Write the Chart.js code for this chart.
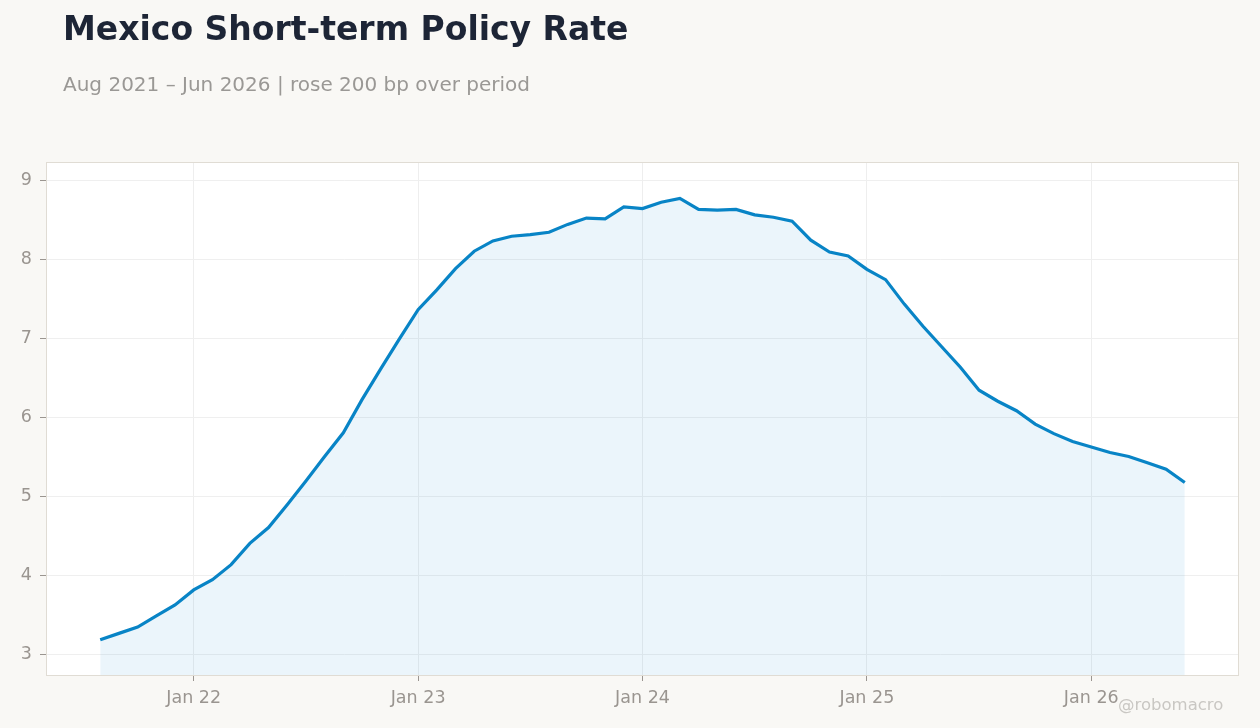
<!DOCTYPE html>
<html>
<head>
<meta charset="utf-8">
<script src="https://cdn.jsdelivr.net/npm/chart.js@4/dist/chart.umd.min.js"></script>
<style>
  html, body { margin: 0; padding: 0; background: #f9f8f5; }
  #wrap { position: relative; width: 1260px; height: 728px; overflow: hidden; }
  #title { position: absolute; left: 63px; top: 9px; font: bold 33px "DejaVu Sans", sans-serif; color: #1d2536; }
  #subtitle { position: absolute; left: 63px; top: 72px; font: 20px "DejaVu Sans", sans-serif; color: #9a9895; }
  #credit { position: absolute; left: 1118px; top: 695px; font: 16.5px "DejaVu Sans", sans-serif; color: #c9c7c3; }
  canvas { position: absolute; left: 0; top: 0; }
</style>
</head>
<body>
<div id="wrap">
  <canvas id="rateChart" width="1260" height="728"></canvas>
  <div id="title">Mexico Short-term Policy Rate</div>
  <div id="subtitle">Aug 2021 – Jun 2026 | rose 200 bp over period</div>
  <div id="credit">@robomacro</div>
</div>
<script>
// monthly observations, Aug 2021 .. Jun 2026
const months = [
  'Aug 21','Sep 21','Oct 21','Nov 21','Dec 21',
  'Jan 22','Feb 22','Mar 22','Apr 22','May 22','Jun 22','Jul 22','Aug 22','Sep 22','Oct 22','Nov 22','Dec 22',
  'Jan 23','Feb 23','Mar 23','Apr 23','May 23','Jun 23','Jul 23','Aug 23','Sep 23','Oct 23','Nov 23','Dec 23',
  'Jan 24','Feb 24','Mar 24','Apr 24','May 24','Jun 24','Jul 24','Aug 24','Sep 24','Oct 24','Nov 24','Dec 24',
  'Jan 25','Feb 25','Mar 25','Apr 25','May 25','Jun 25','Jul 25','Aug 25','Sep 25','Oct 25','Nov 25','Dec 25',
  'Jan 26','Feb 26','Mar 26','Apr 26','May 26','Jun 26'
];

const rate = [
  3.19, 3.27, 3.35, 3.49, 3.63,
  3.82, 3.95, 4.14, 4.41, 4.61, 4.90, 5.20, 5.51, 5.81, 6.23, 6.62, 7.00,
  7.37, 7.62, 7.89, 8.11, 8.24, 8.30, 8.32, 8.35, 8.45, 8.53, 8.52, 8.67,
  8.65, 8.73, 8.78, 8.64, 8.63, 8.64, 8.57, 8.54, 8.49, 8.25, 8.10, 8.05,
  7.88, 7.75, 7.44, 7.16, 6.90, 6.64, 6.35, 6.21, 6.09, 5.92, 5.80, 5.70,
  5.63, 5.56, 5.51, 5.43, 5.35, 5.18
];

const yTicks = [3, 4, 5, 6, 7, 8, 9];

const plotBox = {
  id: 'plotBox',
  beforeDraw(chart) {
    const {ctx, chartArea: a} = chart;
    ctx.save();
    ctx.fillStyle = '#ffffff';
    ctx.fillRect(a.left, a.top, a.right - a.left, a.bottom - a.top);
    ctx.restore();
  },
  afterDraw(chart) {
    const {ctx, chartArea: a} = chart;
    ctx.save();
    ctx.strokeStyle = '#e0dcd4';
    ctx.lineWidth = 1;
    ctx.strokeRect(a.left + 0.5, a.top + 0.5, a.right - a.left - 1, a.bottom - a.top - 1);
    ctx.restore();
  }
};

const tickFont = { family: 'DejaVu Sans', size: 17.5 };

new Chart(document.getElementById('rateChart'), {
  type: 'line',
  data: {
    datasets: [{
      data: rate.map((v, i) => ({ x: i, y: v })),
      borderColor: '#0884c6',
      backgroundColor: 'rgba(30, 140, 210, 0.09)',
      borderWidth: 3.2,
      pointRadius: 0,
      tension: 0,
      fill: 'start'
    }]
  },
  plugins: [plotBox],
  options: {
    responsive: false,
    animation: false,
    layout: { padding: { top: 162, right: 21, bottom: 0, left: 0 } },
    plugins: { legend: { display: false }, tooltip: { enabled: false } },
    scales: {
      x: {
        type: 'linear',
        min: -2.9,
        max: rate.length - 1 + 2.9,
        afterBuildTicks: (scale) => {
          scale.ticks = months
            .map((m, i) => ({ value: i, label: m }))
            .filter(t => t.label.startsWith('Jan'));
        },
        afterFit: (scale) => { scale.height = 52; },
        ticks: {
          callback: (v) => months[v],
          color: '#9a9590',
          font: tickFont,
          padding: 7,
          maxRotation: 0,
          autoSkip: false
        },
        grid: { color: '#eeeeee', tickColor: '#9a9590', tickLength: 5 },
        border: { display: false }
      },
      y: {
        min: 2.73,
        max: 9.24,
        afterBuildTicks: (scale) => {
          scale.ticks = yTicks.map(v => ({ value: v }));
        },
        afterFit: (scale) => { scale.width = 46; },
        ticks: { color: '#9a9590', font: tickFont, padding: 8 },
        grid: { color: '#efefef', tickColor: '#9a9590', tickLength: 6 },
        border: { display: false }
      }
    }
  }
});
</script>
</body>
</html>
